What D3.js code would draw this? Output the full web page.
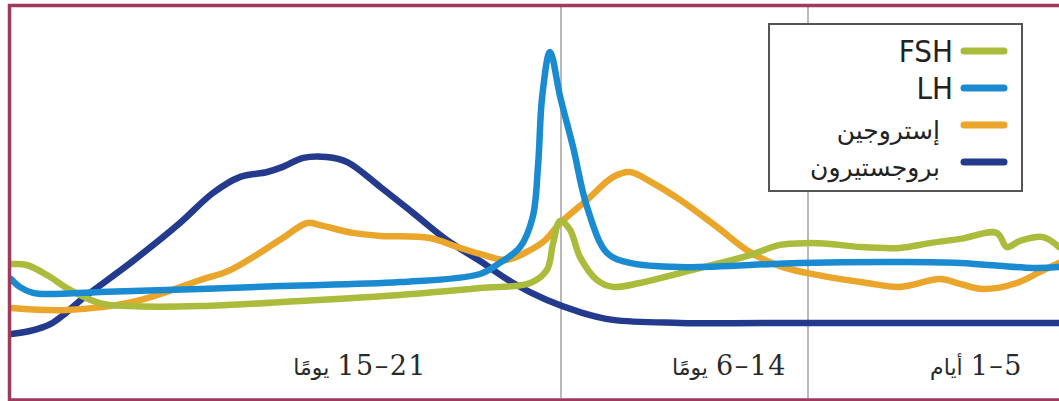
<!DOCTYPE html>
<html>
<head>
<meta charset="utf-8">
<script src="https://cdn.jsdelivr.net/npm/d3@7"></script>
<style>
  body { margin: 0; background: #fff; }
  svg { display: block; }
</style>
</head>
<body>
<svg id="chart" width="1059" height="401"></svg>
<script>
// cycle day (counted from the right edge) and hormone level (0-100)
const fshData = [[0,31.0],[0.32,34.3],[0.78,33.0],[1.04,31.0],[1.24,35.7],[1.97,33.7],[2.57,32.3],[3.17,30.7],[3.96,31.0],[4.56,32.0],[5,32.3],[6.02,31.7],[7.11,28.3],[8.94,24.0],[9.66,22.3],[11.12,19.0],[12.11,17.7],[12.69,20.0],[13.31,27.7],[13.67,36.7],[14.01,39.7],[14.10,32.3],[14.18,23.3],[14.39,19.0],[15.03,17.3],[16.05,15.0],[17.32,13.0],[18.59,11.3],[19.49,11.3],[19.87,12.3],[20.29,17.3],[20.50,21.0],[20.80,25.0],[21,25.3]]
const lhData = [[0,24.3],[0.52,24.0],[1.97,25.7],[3.17,26.0],[5.29,25.7],[9.66,24.3],[11.49,25.7],[12.32,29.0],[13.05,44.3],[13.56,64.3],[14.01,81.0],[14.14,96.0],[14.24,81.0],[14.29,59.0],[14.36,41.0],[14.52,31.0],[14.78,25.7],[15.03,22.0],[16.05,19.3],[17.58,18.0],[18.59,17.0],[19.87,16.0],[20.50,15.3],[20.72,15.7],[20.89,17.7],[21,20.3]]
const estrogenData = [[0,25.7],[0.38,22.7],[0.84,19.0],[1.51,17.0],[1.97,18.7],[2.37,20.3],[3.17,17.7],[3.82,19.0],[4.82,21.7],[5.91,24.3],[7.11,29.3],[8.32,37.7],[9.66,46.7],[10.65,52.3],[11.49,56.0],[12.11,54.3],[13.05,46.7],[14.01,39.0],[14.20,33.3],[14.39,30.0],[14.69,26.7],[15.03,28.7],[15.32,31.0],[15.67,34.0],[16.30,34.7],[16.65,35.7],[17.07,38.3],[17.23,39.0],[17.58,33.3],[18.21,23.3],[18.59,20.0],[19.45,12.7],[20.29,10.0],[21,10.7]]
const progesteroneData = [[0,5.7],[3.17,5.7],[5,5.7],[9.66,5.7],[12.11,6.7],[13.31,9.3],[14.18,13.3],[14.61,19.0],[15.03,26.3],[15.45,33.3],[15.88,42.3],[16.30,51.0],[16.72,59.3],[16.98,61.0],[17.28,60.7],[17.54,57.7],[17.74,56.0],[18.09,54.3],[18.43,49.0],[18.85,39.0],[19.45,26.3],[20.08,14.0],[20.29,9.3],[20.50,5.3],[20.76,3.0],[21,2.0]]

const hormoneNames = ["FSH", "LH", "إستروجين", "بروجستيرون"]
const hormoneColors = ["#abbc3c", "#1a8bd0", "#e9a62a", "#243a8d"]

const phaseBounds = [0, 5, 14, 21]
const phaseNumbers = ["1–5", "6–14", "15–21"]
const phaseWords = ["أيام", "يومًا", "يومًا"]

const svg = d3.select("#chart")

// right-to-left day axis, one piece per phase
const x = d3.scaleLinear().domain(phaseBounds).range([1059, 808, 561, 11])
const y = d3.scaleLinear().domain([0, 100]).range([340, 40])

svg.append("defs").append("clipPath").attr("id", "plot-clip")
  .append("rect").attr("x", 11).attr("y", 6).attr("width", 1048).attr("height", 392)

// phase separators
svg.append("g")
  .selectAll("line")
  .data(phaseBounds.slice(1, 3))
  .enter()
  .append("line")
  .attr("x1", d => x(d)).attr("x2", d => x(d))
  .attr("y1", 6).attr("y2", 398)
  .attr("stroke", "#8a8a8a")
  .attr("stroke-width", 1.2)

const line = d3.line()
  .x(d => x(d[0]))
  .y(d => y(d[1]))
  .curve(d3.curveCatmullRom.alpha(0.5))

const series = [fshData, lhData, estrogenData, progesteroneData]
// draw progesterone first so the others sit over it
const order = [3, 2, 0, 1]

svg.append("g")
  .attr("clip-path", "url(#plot-clip)")
  .selectAll("path")
  .data(order)
  .enter()
  .append("path")
  .attr("d", i => line(series[i]))
  .attr("fill", "none")
  .attr("stroke", i => hormoneColors[i])
  .attr("stroke-width", 6.5)
  .attr("stroke-linejoin", "round")
  .attr("stroke-linecap", "round")

// bottom phase labels
const labelRight = [1023, 787, 427]
const labels = svg.append("g")
phaseNumbers.forEach(function(num, i) {
  let t = labels.append("text")
    .attr("x", labelRight[i]).attr("y", 375)
    .attr("text-anchor", "end")
    .style("font-family", "'DejaVu Serif', serif")
    .style("font-size", "27px")
    .style("letter-spacing", "1.5px")
    .attr("fill", "#2a2a2a")
    .text(num)
  let w = t.node().getComputedTextLength()
  labels.append("text")
    .attr("x", labelRight[i] - w - 8).attr("y", 375)
    .attr("text-anchor", "end")
    .style("font-family", "'DejaVu Sans', sans-serif")
    .style("font-size", "22px")
    .attr("fill", "#2a2a2a")
    .text(phaseWords[i])
})

// legend
const legend = svg.append("g")
legend.append("rect")
  .attr("x", 769).attr("y", 24)
  .attr("width", 253).attr("height", 167)
  .attr("fill", "#fff")
  .attr("stroke", "#555")
  .attr("stroke-width", 2)

const rowY = [51, 88, 125, 162]
const items = legend.selectAll("g.item")
  .data(hormoneNames)
  .enter()
  .append("g")
  .attr("class", "item")

items.append("line")
  .attr("x1", 964).attr("x2", 1004)
  .attr("y1", (d, i) => rowY[i]).attr("y2", (d, i) => rowY[i])
  .attr("stroke", (d, i) => hormoneColors[i])
  .attr("stroke-width", 7)
  .attr("stroke-linecap", "round")

items.append("text")
  .attr("x", (d, i) => i < 2 ? 953 : 940)
  .attr("y", (d, i) => i < 2 ? rowY[i] + 11 : rowY[i] + 14)
  .attr("text-anchor", "end")
  .style("font-family", (d, i) => i < 2 ? "'Liberation Sans Narrow', 'DejaVu Sans Condensed', sans-serif" : "'DejaVu Sans', sans-serif")
  .style("font-size", (d, i) => i < 2 ? "31px" : "25px")
  .attr("fill", "#222")
  .text(d => d)

// frame
svg.append("rect")
  .attr("x", 9.5).attr("y", 5.5)
  .attr("width", 1070).attr("height", 394.5)
  .attr("fill", "none")
  .attr("stroke", "#9e3a5c")
  .attr("stroke-width", 3.5)
</script>
</body>
</html>
